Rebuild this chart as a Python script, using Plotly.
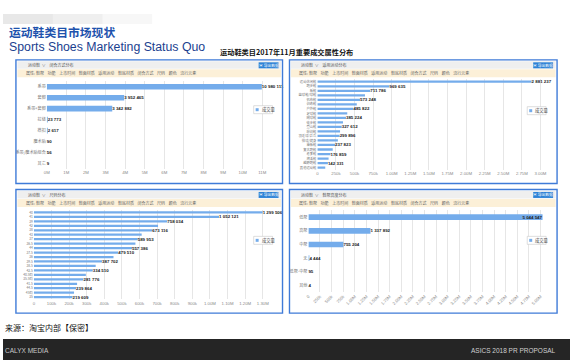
import plotly.graph_objects as go

W, H = 570, 360

# ---------------- data ----------------
closure_cats = ["系带", "套脚", "系带+套脚", "拉链", "搭扣", "魔术贴", "系带/魔术贴组合", "其它"]
closure_vals = [10980111, 3952465, 3342882, 23773, 2617, 90, 56, 9]
closure_labeled = [0, 1, 2, 3, 4, 5, 6, 7]
closure_ticks = [0, 1e6, 2e6, 3e6, 4e6, 5e6, 6e6, 7e6, 8e6, 9e6, 10e6, 11e6]
closure_ticktext = ["0M", "1M", "2M", "3M", "4M", "5M", "6M", "7M", "8M", "9M", "10M", "11M"]

sport_cats = ["运动休闲鞋", "跑步鞋", "板鞋", "篮球鞋/球鞋", "帆布鞋", "训练鞋", "户外鞋", "足球鞋", "网球鞋",
              "徒步鞋", "登山鞋", "综训鞋", "羽毛球/乒乓", "排球/健身", "滑板鞋", "复古跑鞋", "老爹鞋", "溯溪鞋",
              "越野跑鞋", "其他运动鞋"]
sport_vals = [2881237, 969635, 711786, 640500, 573248, 530200, 485822, 402300, 385224, 345100,
              327612, 305400, 299896, 276300, 237823, 206700, 176859, 151200, 142331, 106500]
sport_labeled = [0, 1, 2, 4, 6, 8, 10, 12, 14, 16, 18]
sport_ticks = [0, 250e3, 500e3, 750e3, 1e6, 1.25e6, 1.5e6, 1.75e6, 2e6, 2.25e6, 2.5e6, 2.75e6, 3e6]
sport_ticktext = ["0", "250k", "500k", "750k", "1.00M", "1.25M", "1.50M", "1.75M", "2.00M", "2.25M",
                  "2.50M", "2.75M", "3.00M"]

size_cats = ["40", "41", "39", "42", "38", "43", "37", "36.5", "44", "37.5", "36", "39.5", "38.5",
             "42.5", "40.5码", "35.5码", "41.5", "44.5", "45码", "35"]
size_vals = [1299506, 1052121, 758034, 705300, 673116, 612400, 589953, 576800, 557386, 479510,
             452300, 387702, 351200, 334510, 295400, 281776, 245600, 239864, 228300, 219609]
size_labeled = [0, 1, 2, 4, 6, 8, 9, 11, 13, 15, 17, 19]
size_ticks = [0, 100e3, 200e3, 300e3, 400e3, 500e3, 600e3, 700e3, 800e3, 900e3, 1e6, 1.1e6, 1.2e6, 1.3e6]
size_ticktext = ["0", "100k", "200k", "300k", "400k", "500k", "600k", "700k", "800k", "900k",
                 "1.00M", "1.10M", "1.20M", "1.30M"]

upper_cats = ["低帮", "高帮", "中帮", "无", "低帮-中帮", "其他"]
upper_vals = [5044547, 1337892, 755204, 4444, 95, 4]
upper_labeled = [0, 1, 2, 3, 4, 5]
upper_ticks = [i * 250e3 for i in range(21)]
upper_ticktext = ["0"] + [f"{int(i*250)}k" if i * 250 < 1000 else f"{i*0.25:.2f}M" for i in range(1, 21)]

tabs_text = "属性: 鞋帮    功能    上市时间    鞋面材质    适用运动    鞋底材质    闭合方式    尺码    颜色    流行元素"

BAR = "#74aceb"
FRAME = "#3f7bd8"
CJK = "Noto Sans CJK SC"
LAT = "Liberation Sans"


def fx(px):
    return px / W


def fy(py):
    return 1 - py / H


def fmt(v):
    return f"{v:,}".replace(",", " ")


panels = [
    dict(cats=closure_cats, vals=closure_vals, lab=closure_labeled, tv=closure_ticks, tt=closure_ticktext,
         rmax=11.73e6, xd=(44, 275), yd=(80.5, 168.5), bw=0.52, frame=(13, 59, 281, 183),
         head="运动鞋  ∨    闭合方式分布", leg=(252, 105), tickang=0, yfs=4.1,
         tpos=["outside"] * 8),
    dict(cats=sport_cats, vals=sport_vals, lab=sport_labeled, tv=sport_ticks, tt=sport_ticktext,
         rmax=3.13e6, xd=(316, 550), yd=(78.7, 169.3), bw=0.5, frame=(288, 59, 557, 183),
         head="运动鞋  ∨    适用运动分布", leg=(527, 106), tickang=0, yfs=3.3,
         tpos=["outside"] * 20),
    dict(cats=size_cats, vals=size_vals, lab=size_labeled, tv=size_ticks, tt=size_ticktext,
         rmax=1.367e6, xd=(31, 273), yd=(209.8, 299.2), bw=0.5, frame=(13, 189, 281, 313),
         head="运动鞋  ∨    尺码分布", leg=(252, 236), tickang=0, yfs=3.3,
         tpos=["outside"] * 20),
    dict(cats=upper_cats, vals=upper_vals, lab=upper_labeled, tv=upper_ticks, tt=upper_ticktext,
         rmax=5.25e6, xd=(307, 552), yd=(210, 292), bw=0.42, frame=(288, 189, 557, 313),
         head="运动鞋  ∨    鞋帮高度分布", leg=(527, 236), tickang=-45, yfs=4.1,
         tpos=["inside", "outside", "outside", "outside", "outside", "outside"]),
]

fig = go.Figure()
shapes = []
annotations = []

# top-left decorative grey band (subtle fade)
for x1, op in [(150, 0.18), (100, 0.2), (50, 0.22)]:
    shapes.append(dict(type="rect", xref="paper", yref="paper", x0=0, x1=fx(x1), y0=fy(23), y1=fy(13),
                       fillcolor="#d0d0d0", opacity=op, line=dict(width=0), layer="below"))

for i, p in enumerate(panels):
    n = i + 1
    xa = "x" if n == 1 else f"x{n}"
    ya = "y" if n == 1 else f"y{n}"
    texts = [fmt(v) if k in p["lab"] else "" for k, v in enumerate(p["vals"])]
    fig.add_trace(go.Bar(
        y=p["cats"], x=p["vals"], orientation="h", xaxis=xa, yaxis=ya,
        marker=dict(color=BAR, line=dict(width=0)), width=p["bw"],
        text=texts, textposition=p["tpos"], insidetextanchor="end",
        textfont=dict(size=4.4, color="#222", family=LAT, weight="bold"),
        constraintext="none", cliponaxis=False, showlegend=False, hoverinfo="x+y",
    ))
    xkey = "xaxis" if n == 1 else f"xaxis{n}"
    ykey = "yaxis" if n == 1 else f"yaxis{n}"
    fig.update_layout(**{
        xkey: dict(domain=[fx(p["xd"][0]), fx(p["xd"][1])], range=[0, p["rmax"]], anchor=ya,
                   tickvals=p["tv"], ticktext=p["tt"], tickangle=p["tickang"],
                   showgrid=True, gridcolor="#e6e6e6", gridwidth=0.6, zeroline=False, showline=False,
                   ticks="", tickfont=dict(size=4.3, color="#8a8a8a", family=LAT), fixedrange=True),
        ykey: dict(domain=[fy(p["yd"][1]), fy(p["yd"][0])], anchor=xa, type="category",
                   tickmode="array", tickvals=p["cats"], ticktext=p["cats"],
                   autorange="reversed", showgrid=False, zeroline=False, showline=False, ticks="",
                   tickfont=dict(size=p["yfs"], color="#777", family=CJK), fixedrange=True),
    })
    l, t, r, b = p["frame"]
    # frame
    shapes.append(dict(type="rect", xref="paper", yref="paper", x0=fx(l), x1=fx(r), y0=fy(b), y1=fy(t),
                       line=dict(color=FRAME, width=1.4), fillcolor="rgba(0,0,0,0)", layer="above"))
    # header bar
    shapes.append(dict(type="rect", xref="paper", yref="paper", x0=fx(l + 1.5), x1=fx(r - 1.5),
                       y0=fy(t + 9), y1=fy(t + 1.5), fillcolor="#efefef", line=dict(width=0), layer="below"))
    # tab bar
    shapes.append(dict(type="rect", xref="paper", yref="paper", x0=fx(l + 1.5), x1=fx(r - 1.5),
                       y0=fy(t + 17.5), y1=fy(t + 9.5), fillcolor="#fcf0d8", line=dict(width=0), layer="below"))
    # export button
    shapes.append(dict(type="rect", xref="paper", yref="paper", x0=fx(r - 24), x1=fx(r - 4),
                       y0=fy(t + 8.5), y1=fy(t + 2.5), fillcolor="#2d82d6", line=dict(width=0), layer="above"))
    annotations.append(dict(text="▣ 导出数据", x=fx(r - 14), y=fy(t + 5.5), xref="paper", yref="paper",
                            showarrow=False, font=dict(size=3.8, color="white", family=CJK),
                            xanchor="center", yanchor="middle"))
    annotations.append(dict(text=p["head"], x=fx(l + 10), y=fy(t + 5.3), xref="paper", yref="paper",
                            showarrow=False, font=dict(size=4, color="#555", family=CJK),
                            xanchor="left", yanchor="middle"))
    annotations.append(dict(text=tabs_text, x=fx(l + 8), y=fy(t + 13.6), xref="paper", yref="paper",
                            showarrow=False, font=dict(size=4, color="#666", family=CJK),
                            xanchor="left", yanchor="middle"))
    # legend box
    lx, ly = p["leg"]
    shapes.append(dict(type="rect", xref="paper", yref="paper", x0=fx(lx), x1=fx(lx + 19), y0=fy(ly + 8),
                       y1=fy(ly), fillcolor="white", line=dict(color="#c8c8c8", width=0.6), layer="above"))
    shapes.append(dict(type="rect", xref="paper", yref="paper", x0=fx(lx + 2), x1=fx(lx + 5),
                       y0=fy(ly + 5.5), y1=fy(ly + 2.5), fillcolor=BAR, line=dict(width=0), layer="above"))
    annotations.append(dict(text="成交量", x=fx(lx + 6), y=fy(ly + 4), xref="paper", yref="paper",
                            showarrow=False, font=dict(size=4.3, color="#444", family=CJK),
                            xanchor="left", yanchor="middle"))

# titles
annotations.append(dict(text="<b>运动鞋类目市场现状</b>", x=fx(4), y=fy(30.5), xref="paper", yref="paper",
                        showarrow=False, font=dict(size=11.8, color="#1d52ad", family=CJK),
                        xanchor="left", yanchor="middle"))
annotations.append(dict(text="Sports Shoes Marketing Status Quo", x=fx(4), y=fy(46), xref="paper",
                        yref="paper", showarrow=False, font=dict(size=12.3, color="#1b3f8f", family=LAT),
                        xanchor="left", yanchor="middle"))
annotations.append(dict(text="<b>运动鞋类目2017年11月重要成交属性分布</b>", x=fx(216), y=fy(51.5), xref="paper",
                        yref="paper", showarrow=False, font=dict(size=7.2, color="#111", family=CJK),
                        xanchor="left", yanchor="middle"))

# footer
annotations.append(dict(text="来源：淘宝内部【保密】", x=0, y=fy(327), xref="paper", yref="paper",
                        showarrow=False, font=dict(size=8, color="#111", family=CJK),
                        xanchor="left", yanchor="middle"))
shapes.append(dict(type="rect", xref="paper", yref="paper", x0=0, x1=1, y0=0, y1=fy(339),
                   fillcolor="#252525", line=dict(width=0), layer="below"))
annotations.append(dict(text="CALYX MEDIA", x=0, y=fy(350), xref="paper", yref="paper",
                        showarrow=False, font=dict(size=6.5, color="#c9c9c9", family=LAT),
                        xanchor="left", yanchor="middle"))
annotations.append(dict(text="ASICS 2018 PR PROPOSAL", x=fx(468), y=fy(350), xref="paper", yref="paper",
                        showarrow=False, font=dict(size=6.5, color="#d0d0d0", family=LAT),
                        xanchor="left", yanchor="middle"))

fig.update_layout(
    width=W, height=H, margin=dict(l=0, r=0, t=0, b=0),
    paper_bgcolor="white", plot_bgcolor="white",
    shapes=shapes, annotations=annotations, bargap=0.5,
    font=dict(family=CJK),
)

fig.write_html("out.html")
